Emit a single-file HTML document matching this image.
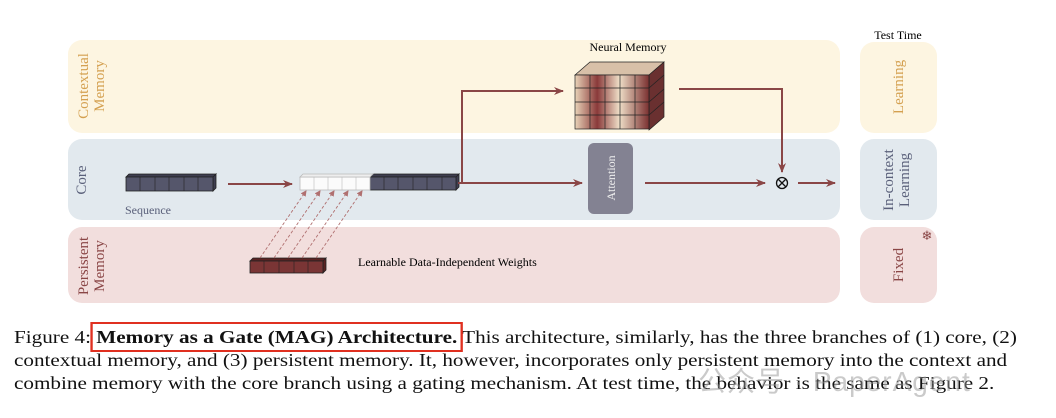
<!DOCTYPE html>
<html><head><meta charset="utf-8"><style>
body{margin:0;width:1056px;height:418px;background:#fff;overflow:hidden;position:relative;font-family:"Liberation Serif",serif}
.cap{position:absolute;left:14px;font-size:18px;color:#111;white-space:nowrap;transform:scaleX(1.175);transform-origin:0 0}
.bx{outline:2.2px solid #e03020;outline-offset:3px}
</style></head><body>
<svg width="1056" height="320" style="position:absolute;left:0;top:0" font-family="Liberation Serif, serif">
<defs>
<marker id="a" markerWidth="10" markerHeight="8" refX="9" refY="4" orient="auto" markerUnits="userSpaceOnUse"><path d="M0,0 L10,4 L0,8 L3,4z" fill="#8a4646"/></marker>
<marker id="s" markerWidth="6" markerHeight="6" refX="5" refY="3" orient="auto" markerUnits="userSpaceOnUse"><path d="M0,0 L6,3 L0,6z" fill="#b07070"/></marker>
<linearGradient id="cg" x1="0" x2="1"><stop offset="0" stop-color="#e8d3b8"/><stop offset=".3" stop-color="#8a3a3a"/><stop offset=".6" stop-color="#efdfc8"/><stop offset="1" stop-color="#7a3030"/></linearGradient>
</defs>
<rect x="68" y="40" width="772" height="93" rx="14" fill="#fdf5e1"/>
<rect x="68" y="139" width="772" height="81" rx="14" fill="#e2e9ee"/>
<rect x="68" y="227" width="772" height="76" rx="14" fill="#f2dedd"/>
<rect x="860" y="42" width="77" height="91" rx="14" fill="#fdf5e1"/>
<rect x="860" y="139" width="77" height="81" rx="14" fill="#e2e9ee"/>
<rect x="860" y="227" width="77" height="76" rx="14" fill="#f2dedd"/>
<g font-size="15">
<text transform="translate(88,86) rotate(-90)" text-anchor="middle" fill="#d4a050">Contextual</text>
<text transform="translate(104,86) rotate(-90)" text-anchor="middle" fill="#d4a050">Memory</text>
<text transform="translate(86,180) rotate(-90)" text-anchor="middle" fill="#5a607a">Core</text>
<text transform="translate(88,266) rotate(-90)" text-anchor="middle" fill="#8a4646">Persistent</text>
<text transform="translate(104,266) rotate(-90)" text-anchor="middle" fill="#8a4646">Memory</text>
<text transform="translate(903,87) rotate(-90)" text-anchor="middle" fill="#d4a050">Learning</text>
<text transform="translate(893,180) rotate(-90)" text-anchor="middle" fill="#5a607a">In-context</text>
<text transform="translate(909,180) rotate(-90)" text-anchor="middle" fill="#5a607a">Learning</text>
<text transform="translate(903,265) rotate(-90)" text-anchor="middle" fill="#8a4646">Fixed</text>
</g>
<text x="927" y="240" font-size="13" fill="#8a4646" text-anchor="middle">❄</text>
<text x="898" y="39" font-size="12" text-anchor="middle">Test Time</text>
<text x="628" y="51" font-size="12" text-anchor="middle">Neural Memory</text>
<text x="125" y="214" font-size="12" fill="#5a607a">Sequence</text>
<text x="358" y="266" font-size="12">Learnable Data-Independent Weights</text>
<g stroke="#222" stroke-width="0.8">
<path d="M126,177 l3,-3 h87 l-3,3z M213,177 l3,-3 v14 l-3,3z" fill="#3e3e50"/>
<rect x="126" y="177" width="87" height="14" fill="#55566b"/>
<path d="M370,177 l3,-3 h86 l-3,3z M456,177 l3,-3 v13 l-3,3z" fill="#3e3e50"/>
<rect x="370" y="177" width="86" height="13" fill="#55566b"/>
<rect x="300" y="177" width="70" height="13" fill="#fbfbfb" stroke="#bbb"/>
<path d="M300,177 l3,-3 h70 l-3,3z" fill="#eee" stroke="#bbb"/>
<path d="M250,261 l3,-3 h73 l-3,3z M323,261 l3,-3 v12 l-3,3z" fill="#5a2222"/>
<rect x="250" y="261" width="73" height="12" fill="#7a3535"/>
</g>
<g stroke="#222" stroke-width="0.6">
<line x1="140" y1="177" x2="140" y2="191"/><line x1="155" y1="177" x2="155" y2="191"/><line x1="169" y1="177" x2="169" y2="191"/><line x1="184" y1="177" x2="184" y2="191"/><line x1="198" y1="177" x2="198" y2="191"/>
<line x1="384" y1="177" x2="384" y2="190"/><line x1="398" y1="177" x2="398" y2="190"/><line x1="413" y1="177" x2="413" y2="190"/><line x1="427" y1="177" x2="427" y2="190"/><line x1="442" y1="177" x2="442" y2="190"/>
<line x1="264" y1="261" x2="264" y2="273"/><line x1="279" y1="261" x2="279" y2="273"/><line x1="294" y1="261" x2="294" y2="273"/><line x1="308" y1="261" x2="308" y2="273"/>
</g>
<g stroke="#bbb" stroke-width="0.6"><line x1="314" y1="177" x2="314" y2="190"/><line x1="328" y1="177" x2="328" y2="190"/><line x1="342" y1="177" x2="342" y2="190"/><line x1="356" y1="177" x2="356" y2="190"/></g>
<g stroke="#b07070" stroke-width="0.9" stroke-dasharray="3,2" marker-end="url(#s)">
<line x1="260" y1="258" x2="306" y2="191"/><line x1="274" y1="258" x2="320" y2="191"/><line x1="288" y1="258" x2="334" y2="191"/><line x1="302" y1="258" x2="348" y2="191"/><line x1="316" y1="258" x2="362" y2="191"/>
</g>
<g stroke="#222" stroke-width="0.7">
<path d="M575,75 l15,-13 h74 l-15,13z" fill="#d8c0a8"/>
<path d="M649,75 l15,-13 v55 l-15,13z" fill="#6a3030"/>
<rect x="575" y="75" width="74" height="54" fill="url(#cg)"/>
<line x1="575" y1="88" x2="649" y2="88"/><line x1="575" y1="102" x2="649" y2="102"/><line x1="575" y1="115" x2="649" y2="115"/>
<line x1="590" y1="75" x2="590" y2="129"/><line x1="605" y1="75" x2="605" y2="129"/><line x1="620" y1="75" x2="620" y2="129"/><line x1="635" y1="75" x2="635" y2="129"/>
<line x1="649" y1="88" x2="664" y2="75"/><line x1="649" y1="102" x2="664" y2="89"/><line x1="649" y1="115" x2="664" y2="102"/>
</g>
<rect x="588" y="143" width="45" height="71" rx="6" fill="#838292"/>
<text transform="translate(615,178) rotate(-90)" text-anchor="middle" font-size="12" fill="#eee">Attention</text>
<g stroke="#8a4646" stroke-width="2" fill="none">
<line x1="228" y1="184" x2="292" y2="184" marker-end="url(#a)"/>
<polyline points="458,183 582,183" marker-end="url(#a)"/>
<polyline points="462,183 462,91 563,91" marker-end="url(#a)"/>
<line x1="645" y1="183" x2="765" y2="183" marker-end="url(#a)"/>
<polyline points="679,89 782,89 782,172" marker-end="url(#a)"/>
<line x1="798" y1="183" x2="835" y2="183" marker-end="url(#a)"/>
</g>
<circle cx="782" cy="183" r="5.5" fill="none" stroke="#111" stroke-width="1.3"/>
<path d="M778,179 l8,8 M786,179 l-8,8" stroke="#111" stroke-width="1.3"/>
</svg>
<div class="cap" style="top:327px">Figure 4: <b class="bx">Memory as a Gate (MAG) Architecture.</b> This architecture, similarly, has the three branches of (1) core, (2)</div>
<div class="cap" style="top:350px">contextual memory, and (3) persistent memory. It, however, incorporates only persistent memory into the context and</div>
<div class="cap" style="top:373px">combine memory with the core branch using a gating mechanism. At test time, the behavior is the same as Figure 2.</div>
<div style="position:absolute;left:698px;top:360px;font-family:'Liberation Sans','Noto Sans CJK SC',sans-serif;font-size:28px;letter-spacing:1px;color:rgba(150,150,150,.5)">公众号 · PaperAgent</div>
</body></html>
